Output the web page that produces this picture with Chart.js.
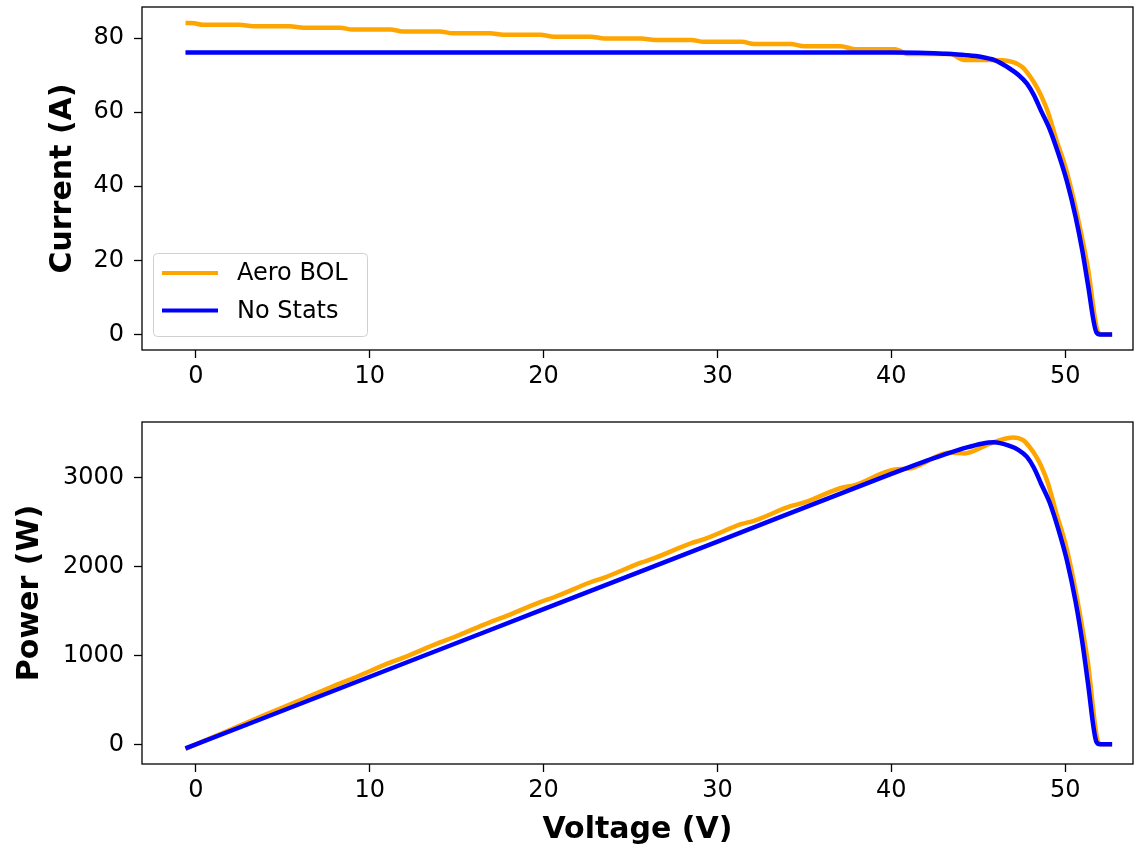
<!DOCTYPE html>
<html>
<head>
<meta charset="utf-8">
<script src="https://cdn.jsdelivr.net/npm/chart.js@4.4.1/dist/chart.umd.min.js"></script>
<style>
  html, body { margin: 0; padding: 0; background: #fff; }
  #wrap { position: relative; width: 1141px; height: 848px; }
  #currentChart { position: absolute; left: 0; top: 0; }
  #powerChart { position: absolute; left: 0; top: 410px; }
</style>
</head>
<body>
<div id="wrap">
  <canvas id="currentChart" width="1141" height="410"></canvas>
  <canvas id="powerChart" width="1141" height="438"></canvas>
</div>
<script>
  // Aero BOL (orange) curve
  const voltsAero = [-0.6, -0.1, 0.4, 2.5, 3.3, 5.4, 6.2, 8.3, 9.0, 11.2, 11.9, 14.0, 14.8, 16.9, 17.7, 19.8,
    20.6, 22.7, 23.5, 25.6, 26.4, 28.5, 29.2, 31.4, 32.1, 34.2, 35.0, 37.1, 37.9, 40.2, 41.0, 43.4, 44.2,
    45.6, 46.4, 47.0, 47.3, 47.6, 48.0, 48.3, 48.6, 49.0, 49.5, 50.0, 50.5, 51.3, 51.9, 52.1, 52.7];
  const currentAero = [84.1, 84.0, 83.6, 83.6, 83.2, 83.2, 82.8, 82.8, 82.3, 82.3, 81.8, 81.8, 81.3, 81.3, 80.9, 80.9,
    80.4, 80.4, 79.9, 79.9, 79.5, 79.5, 79.0, 79.0, 78.4, 78.4, 77.8, 77.8, 77.0, 77.0, 75.7, 75.7, 74.1,
    74.1, 74.0, 73.5, 72.9, 71.9, 69.5, 67.3, 64.6, 60.1, 52.4, 45.4, 36.2, 18.1, 0.5, 0, 0];
  const powerAero = [-50, -8, 33, 209, 275, 449, 513, 687, 741, 922, 973, 1145, 1203, 1374, 1432, 1602,
    1656, 1825, 1878, 2045, 2099, 2266, 2307, 2481, 2517, 2681, 2723, 2886, 2918, 3095, 3104, 3285, 3275,
    3379, 3434, 3455, 3448, 3422, 3336, 3251, 3140, 2945, 2594, 2270, 1828, 929, 26, 0, 0];

  // No Stats (blue) curve
  const voltsNoStats = [-0.6, 10, 20, 30, 40.0, 42.0, 43.0, 44.3, 45.2, 45.9, 46.8, 47.3, 47.8, 48.2, 48.6,
    49.1, 49.6, 50.1, 50.6, 51.0, 51.3, 51.8, 52.0, 52.7];
  const currentNoStats = [76.1, 76.1, 76.1, 76.1, 76.1, 76.0, 75.8, 75.4, 74.9, 74.1, 71.8, 70.1, 67.7, 64.6, 60.5,
    55.5, 48.9, 41.3, 31.7, 22.2, 13.7, 0.5, 0, 0];
  const powerNoStats = [-46, 761, 1522, 2283, 3044, 3192, 3259, 3340, 3385, 3401, 3360, 3316, 3236, 3114, 2940,
    2725, 2425, 2069, 1604, 1132, 703, 26, 0, 0];

  const voltTicks = [0, 10, 20, 30, 40, 50];
  const currentTicks = [0, 20, 40, 60, 80];
  const powerTicks = [0, 1000, 2000, 3000];

  const seriesNames = ['Aero BOL', 'No Stats'];
  const seriesColors = ['#ffa500', '#0000ff'];

  const FONT = "'DejaVu Sans'";
  const toPts = (xs, ys) => xs.map((x, i) => ({ x, y: ys[i] }));

  const frame = {
    id: 'frame',
    afterDatasetsDraw(chart) {
      const a = chart.chartArea;
      const ctx = chart.ctx;
      ctx.save();
      ctx.strokeStyle = '#000';
      ctx.lineWidth = 1.3;
      ctx.strokeRect(a.left, a.top, a.right - a.left, a.bottom - a.top);
      ctx.restore();
    },
  };

  const legendBox = {
    id: 'legendBox',
    afterDraw(chart) {
      const ctx = chart.ctx;
      ctx.save();
      ctx.beginPath();
      ctx.roundRect(153.5, 253.5, 214, 83, 4);
      ctx.fillStyle = 'rgba(255,255,255,0.8)';
      ctx.fill();
      ctx.strokeStyle = '#d0d0d0';
      ctx.lineWidth = 1;
      ctx.stroke();
      chart.data.datasets.forEach((ds, i) => {
        const y = 273 + i * 37.5;
        ctx.beginPath();
        ctx.moveTo(162, y);
        ctx.lineTo(218, y);
        ctx.strokeStyle = ds.borderColor;
        ctx.lineWidth = 4;
        ctx.stroke();
        ctx.fillStyle = '#000';
        ctx.font = '24px ' + FONT;
        ctx.textBaseline = 'middle';
        ctx.fillText(ds.label, 237, y + 1);
      });
      ctx.restore();
    },
  };

  function makeDatasets(yAero, yNoStats) {
    return [
      {
        label: seriesNames[0],
        data: toPts(voltsAero, yAero),
        borderColor: seriesColors[0],
        borderWidth: 4.5,
        pointRadius: 0,
        cubicInterpolationMode: 'monotone',
        order: 1,
      },
      {
        label: seriesNames[1],
        data: toPts(voltsNoStats, yNoStats),
        borderColor: seriesColors[1],
        borderWidth: 4.5,
        pointRadius: 0,
        cubicInterpolationMode: 'monotone',
        order: 0,
      },
    ];
  }

  const setTicks = list => s => { s.ticks = list.map(v => ({ value: v })); };

  function xScale(height, withTitle) {
    return {
      type: 'linear',
      min: -3.1,
      max: 53.9,
      afterBuildTicks: setTicks(voltTicks),
      afterFit: s => { s.height = height; s.paddingLeft = 0; s.paddingRight = 0; },
      ticks: { color: '#000', font: { family: FONT, size: 24 }, padding: 4, callback: v => String(v) },
      grid: { drawOnChartArea: false, color: '#000', tickLength: 8, tickWidth: 1.3 },
      border: { display: false },
      title: {
        display: withTitle,
        text: 'Voltage (V)',
        color: '#000',
        font: { family: FONT, size: 30, weight: 'bold' },
        padding: { top: 0, bottom: 0 },
      },
    };
  }

  function yScale(min, max, tickList, text, titlePad) {
    return {
      min,
      max,
      afterBuildTicks: setTicks(tickList),
      afterFit: s => { s.width = 142; s.paddingTop = 0; s.paddingBottom = 0; },
      ticks: { color: '#000', font: { family: FONT, size: 24 }, padding: 10, callback: v => String(v) },
      grid: { drawOnChartArea: false, color: '#000', tickLength: 8, tickWidth: 1.3 },
      border: { display: false },
      title: {
        display: true,
        text,
        color: '#000',
        font: { family: FONT, size: 30, weight: 'bold' },
        padding: { top: titlePad, bottom: 0 },
      },
    };
  }

  const baseOptions = {
    responsive: false,
    animation: false,
    plugins: { legend: { display: false }, tooltip: { enabled: false } },
  };

  new Chart(document.getElementById('currentChart'), {
    type: 'line',
    data: { datasets: makeDatasets(currentAero, currentNoStats) },
    options: {
      ...baseOptions,
      layout: { padding: { top: 7, right: 8, left: 0, bottom: 0 } },
      scales: {
        x: xScale(60, false),
        y: yScale(-4.21, 88.4, currentTicks, 'Current (A)', 45),
      },
    },
    plugins: [frame, legendBox],
  });

  new Chart(document.getElementById('powerChart'), {
    type: 'line',
    data: { datasets: makeDatasets(powerAero, powerNoStats) },
    options: {
      ...baseOptions,
      layout: { padding: { top: 12, right: 8, left: 0, bottom: 0 } },
      scales: {
        x: xScale(84, true),
        y: yScale(-221, 3629, powerTicks, 'Power (W)', 12),
      },
    },
    plugins: [frame],
  });
</script>
</body>
</html>
